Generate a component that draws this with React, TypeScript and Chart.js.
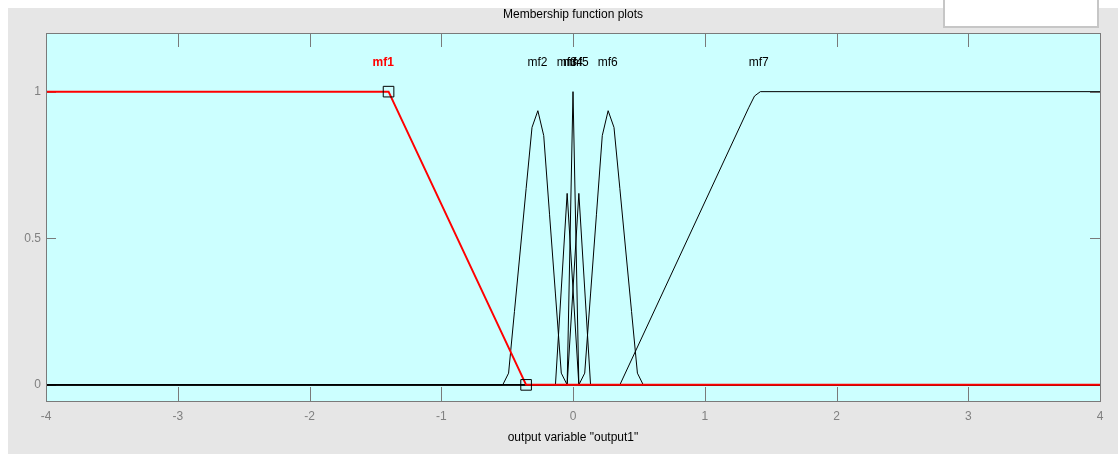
import React, { useEffect, useRef } from "react";
import { Chart, registerables } from "chart.js";

Chart.register(...registerables);

// ---- data ----
const xTicks = [-4, -3, -2, -1, 0, 1, 2, 3, 4];
const yTicks = [0, 0.5, 1];

const mfNames = ["mf1", "mf2", "mf3", "mf4", "mf5", "mf6", "mf7"];
const labelX = [-1.44, -0.27, -0.047, 0, 0.043, 0.263, 1.41];
const labelY = 1.1;

const mf1X = [-4, -1.4, -0.356, 4];
const mf1Y = [1, 1, 0, 0];

const mf2X = [-4, -0.5333, -0.4889, -0.4444, -0.4, -0.3556, -0.3111, -0.2667, -0.2222, -0.1778, -0.1333, -0.0889, -0.0444, 4];
const mf2Y = [0, 0, 0.04, 0.25, 0.46, 0.67, 0.878, 0.935, 0.85, 0.58, 0.31, 0.04, 0, 0];

const mf3X = [-4, -0.1333, -0.0889, -0.0444, 0, 0.0444, 4];
const mf3Y = [0, 0, 0.327, 0.653, 0.327, 0, 0];

const mf4X = [-4, -0.0444, 0, 0.0444, 4];
const mf4Y = [0, 0, 1, 0, 0];

const mf5X = [-4, -0.0444, 0, 0.0444, 0.0889, 0.1333, 4];
const mf5Y = [0, 0, 0.327, 0.653, 0.327, 0, 0];

const mf6X = [-4, 0.0444, 0.0889, 0.1333, 0.1778, 0.2222, 0.2667, 0.3111, 0.3556, 0.4, 0.4444, 0.4889, 0.5333, 4];
const mf6Y = [0, 0, 0.04, 0.31, 0.58, 0.85, 0.935, 0.878, 0.67, 0.46, 0.25, 0.04, 0, 0];

const mf7X = [-4, 0.3556, 1.3333, 1.3778, 1.4222, 4];
const mf7Y = [0, 0, 0.945, 0.985, 1, 1];

const markerX = [-1.4, -0.356];
const markerY = [1, 0];

const FONT = "'Liberation Sans', Arial, sans-serif";

const toPts = (xs: number[], ys: number[]) => xs.map((x, i) => ({ x, y: ys[i] }));

const decorPlugin = {
  id: "decor",
  beforeDraw(chart: any) {
    const { ctx, chartArea: a } = chart;
    ctx.save();
    ctx.fillStyle = "#ccffff";
    ctx.fillRect(a.left, a.top, a.right - a.left, a.bottom - a.top);
    ctx.restore();
  },
  beforeDatasetsDraw(chart: any) {
    const { ctx, chartArea: a } = chart;
    const xs = chart.scales.x;
    const ys = chart.scales.y;
    ctx.save();
    ctx.strokeStyle = "#7a7a7a";
    ctx.lineWidth = 1;
    ctx.beginPath();
    xTicks.forEach((v) => {
      const px = Math.round(xs.getPixelForValue(v)) + 0.5;
      ctx.moveTo(px, a.top);
      ctx.lineTo(px, a.top + 14);
      ctx.moveTo(px, a.bottom);
      ctx.lineTo(px, a.bottom - 14);
    });
    yTicks.forEach((v) => {
      const py = Math.round(ys.getPixelForValue(v)) + 0.5;
      ctx.moveTo(a.left, py);
      ctx.lineTo(a.left + 10, py);
      ctx.moveTo(a.right, py);
      ctx.lineTo(a.right - 10, py);
    });
    ctx.stroke();
    ctx.restore();
  },
  afterDatasetsDraw(chart: any) {
    const { ctx, chartArea: a } = chart;
    const xs = chart.scales.x;
    const ys = chart.scales.y;
    ctx.save();
    ctx.strokeStyle = "#7a7a7a";
    ctx.lineWidth = 1;
    ctx.strokeRect(a.left + 0.5, a.top + 0.5, a.right - a.left, a.bottom - a.top);

    // mf labels
    ctx.textAlign = "center";
    ctx.textBaseline = "middle";
    mfNames.forEach((n, i) => {
      ctx.fillStyle = i === 0 ? "#ff0000" : "#000000";
      ctx.font = (i === 0 ? "bold " : "") + "12px " + FONT;
      ctx.fillText(n, xs.getPixelForValue(labelX[i]), ys.getPixelForValue(labelY));
    });

    // chart title
    ctx.fillStyle = "#000";
    ctx.font = "12px " + FONT;
    ctx.fillText("Membership function plots", (a.left + a.right) / 2, 7);
    ctx.restore();
  },
};

export default function App() {
  const ref = useRef<HTMLCanvasElement | null>(null);

  useEffect(() => {
    if (!ref.current) return;
    const black = (xs: number[], ys: number[], label: string) => ({
      label,
      data: toPts(xs, ys),
      borderColor: "#000000",
      borderWidth: 1,
      pointRadius: 0,
      tension: 0,
      fill: false,
      order: 3,
    });
    const chart = new Chart(ref.current, {
      type: "line",
      data: {
        datasets: [
          {
            label: "markers",
            data: toPts(markerX, markerY),
            showLine: false,
            pointStyle: "rect",
            pointRadius: 7.5,
            pointBorderWidth: 1,
            pointBorderColor: "#000000",
            pointBackgroundColor: "rgba(0,0,0,0)",
            order: 1,
          } as any,
          {
            label: "mf1",
            data: toPts(mf1X, mf1Y),
            borderColor: "#ff0000",
            borderWidth: 2,
            pointRadius: 0,
            tension: 0,
            fill: false,
            order: 2,
          },
          black(mf2X, mf2Y, "mf2"),
          black(mf3X, mf3Y, "mf3"),
          black(mf4X, mf4Y, "mf4"),
          black(mf5X, mf5Y, "mf5"),
          black(mf6X, mf6Y, "mf6"),
          black(mf7X, mf7Y, "mf7"),
        ],
      },
      options: {
        animation: false,
        responsive: false,
        events: [],
        layout: { padding: { left: 0, right: 18, top: 25, bottom: 0 } },
        plugins: {
          legend: { display: false },
          tooltip: { enabled: false },
          title: { display: false },
        },
        scales: {
          x: {
            type: "linear",
            min: -4,
            max: 4,
            afterBuildTicks: (s: any) => {
              s.ticks = xTicks.map((v) => ({ value: v }));
            },
            afterFit: (s: any) => {
              s.height = 53;
            },
            ticks: {
              color: "#808080",
              font: { family: FONT, size: 12 },
              padding: 8,
              maxRotation: 0,
              autoSkip: false,
              callback: (v: any) => String(v),
            },
            grid: { display: false, drawTicks: false },
            border: { display: false },
            title: {
              display: true,
              text: 'output variable "output1"',
              color: "#000000",
              font: { family: FONT, size: 12 },
              padding: { top: 0, bottom: 9 },
            },
          },
          y: {
            type: "linear",
            min: -0.055,
            max: 1.2,
            afterBuildTicks: (s: any) => {
              s.ticks = yTicks.map((v) => ({ value: v }));
            },
            afterFit: (s: any) => {
              s.width = 38;
            },
            ticks: {
              color: "#808080",
              font: { family: FONT, size: 12 },
              padding: 5,
              callback: (v: any) => String(v),
            },
            grid: { display: false, drawTicks: false },
            border: { display: false },
          },
        },
      } as any,
      plugins: [decorPlugin],
    });
    return () => chart.destroy();
  }, []);

  return (
    <div style={{ position: "absolute", left: 0, top: 0, width: 1118, height: 454, background: "#ffffff", overflow: "hidden" }}>
      <div style={{ position: "absolute", left: 8, top: 8, width: 1110, height: 446, background: "#e6e6e6" }}>
        <canvas ref={ref} width={1110} height={446} style={{ display: "block", width: 1110, height: 446 }} />
      </div>
      <div
        style={{
          position: "absolute",
          left: 943,
          top: 0,
          width: 152,
          height: 26,
          background: "#ffffff",
          borderLeft: "2px solid #c6c6c6",
          borderRight: "2px solid #c6c6c6",
          borderBottom: "2px solid #c6c6c6",
        }}
      />
    </div>
  );
}
